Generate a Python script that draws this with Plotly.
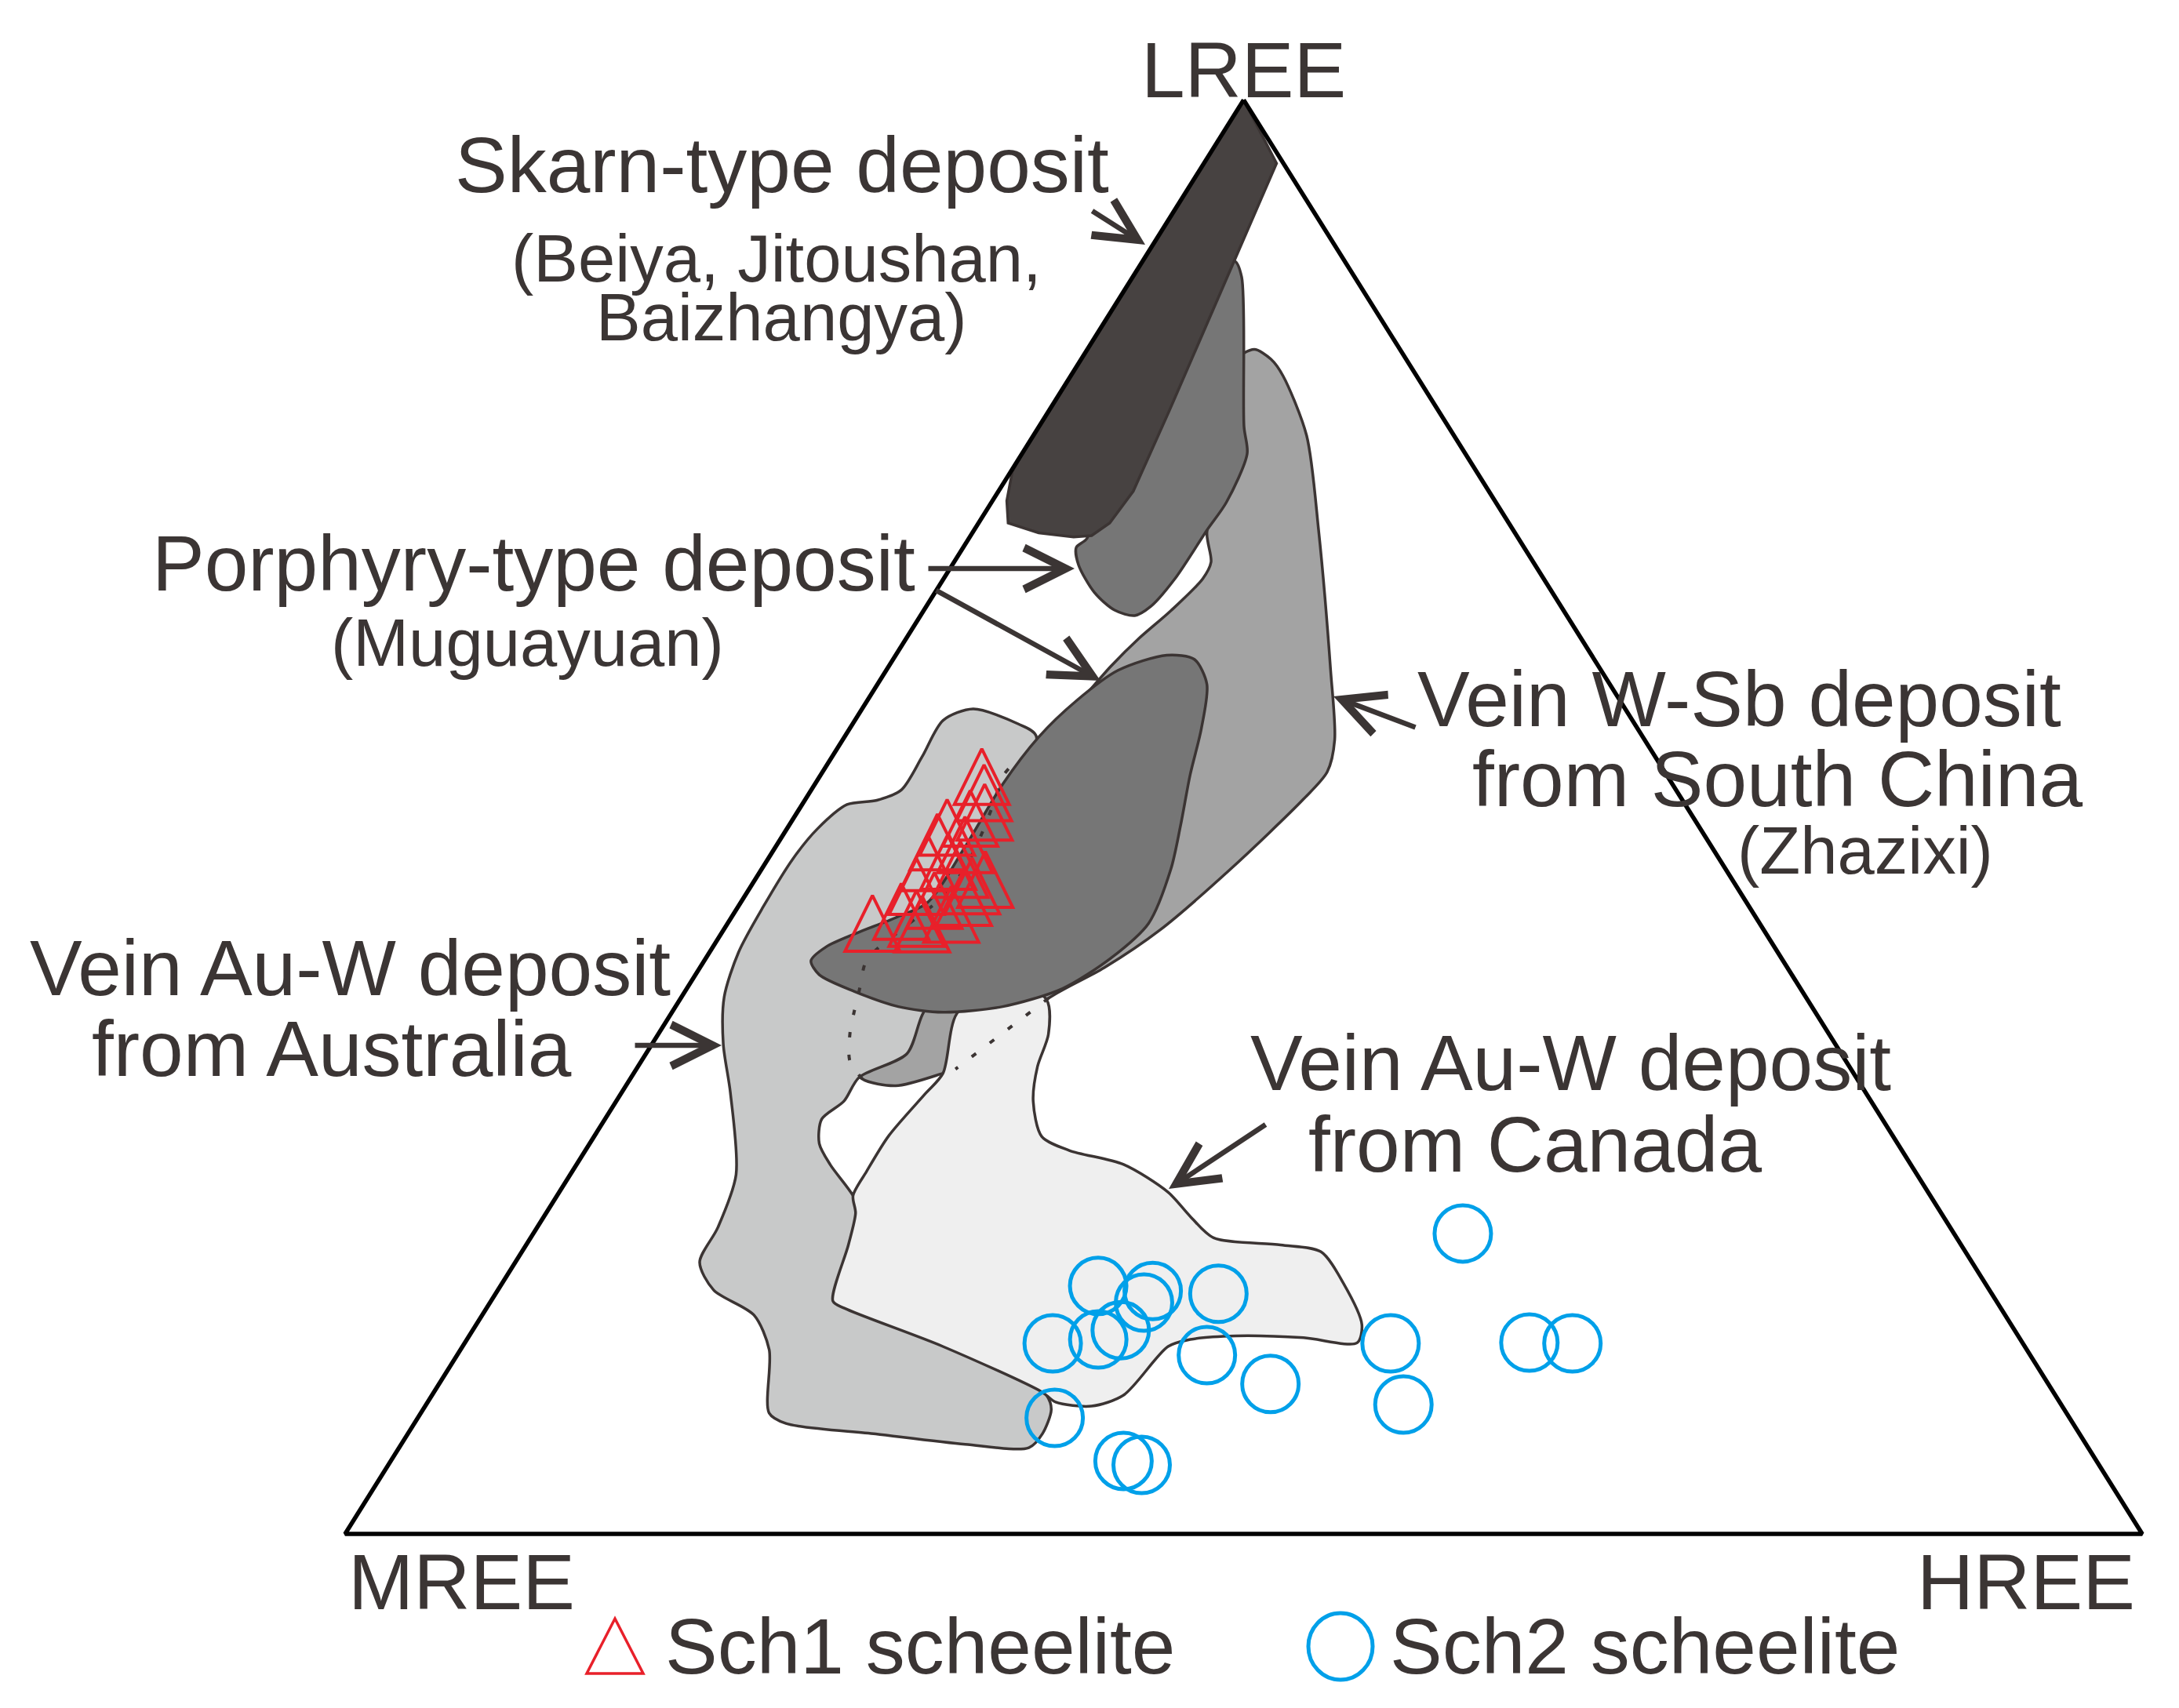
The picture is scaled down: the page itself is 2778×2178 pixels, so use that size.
import numpy as np
import plotly.graph_objects as go

# ---------------- data: ternary compositions in % (LREE, HREE); MREE = 100 - LREE - HREE ----
# Skarn-type deposit field (Beiya, Jitoushan, Baizhangya)
skarn_lree = [100.0, 95.58, 78.33, 72.72, 70.49, 69.62, 69.52, 69.81, 70.49, 72.04, 74.07, 75.53]
skarn_hree = [0.0, 4.04, 6.70, 7.50, 7.30, 6.73, 5.78, 3.69, 1.65, 0.80, 0.09, 0.0]

# Porphyry-type deposit, upper field (Muguayuan)
porph_up_lree = [88.75, 87.64, 77.22, 75.33, 71.94, 70.00, 66.61, 64.67, 64.04, 64.42, 65.64,
                 67.58, 68.79, 69.42, 73.59, 81.34, 87.64]
porph_up_hree = [5.13, 6.07, 11.41, 12.53, 13.07, 12.96, 12.87, 12.49, 11.92, 10.61, 8.88,
                 7.02, 6.29, 6.57, 5.45, 4.66, 4.22]

# Porphyry-type deposit, lower (elliptical) field
porph_lo_lree = [39.97, 40.94, 41.90, 42.97, 44.04, 47.91, 52.27, 55.57, 58.09, 60.22, 61.28,
                 60.99, 59.25, 56.15, 52.95, 49.37, 46.36, 42.58, 40.16, 38.03, 36.77, 36.38,
                 36.77, 37.84, 39.00]
porph_lo_hree = [5.94, 6.30, 7.52, 9.15, 10.40, 10.54, 10.45, 10.81, 11.64, 12.90, 15.08,
                 16.76, 18.33, 19.57, 20.55, 21.80, 22.77, 23.42, 22.54, 20.91, 18.20, 15.08,
                 12.40, 9.40, 6.88]

# Vein W-Sb deposit from South China (Zhazixi)
wsb_lree = [81.82, 82.60, 81.92, 80.76, 76.59, 70.00, 60.22, 55.37, 53.14, 51.21, 46.36, 42.10,
            39.48, 37.35, 32.41, 32.12, 31.25, 31.73, 32.99, 34.93, 36.38, 38.03, 39.77, 40.65,
            42.58, 44.52, 46.46, 48.40, 50.82, 52.95, 54.21, 56.92, 60.51, 62.45, 64.38, 66.61,
            67.77, 69.81, 74.56, 79.40]
wsb_hree = [8.60, 9.29, 10.56, 11.81, 15.21, 19.17, 24.73, 27.38, 28.08, 27.70, 26.09, 24.28,
            22.50, 20.46, 17.76, 17.21, 15.02, 12.91, 11.59, 10.63, 10.13, 9.62, 9.05, 9.16,
            10.12, 11.08, 11.27, 11.08, 10.64, 10.19, 10.50, 11.61, 12.36, 12.95, 13.76, 14.42,
            14.30, 13.05, 11.53, 9.65]

# Vein Au-W deposit from Australia
aus_lree = [57.53, 56.49, 55.66, 48.40, 39.68, 36.19, 33.48, 31.83, 30.18, 28.92, 27.23, 25.75,
            23.59, 21.27, 17.39, 13.52, 9.67, 8.67, 6.98, 6.01, 6.25, 6.97, 7.70, 8.43, 12.84,
            15.26, 17.00, 18.94, 21.36, 25.05, 30.76, 34.15, 37.45, 40.58, 43.75, 47.09, 49.17,
            50.86, 51.16, 51.88, 54.21, 56.73]
aus_hree = [6.18, 9.20, 10.62, 12.62, 13.89, 14.02, 14.52, 12.68, 12.67, 12.06, 12.77, 14.12,
            16.47, 18.46, 21.94, 28.52, 34.20, 34.96, 35.31, 35.04, 31.38, 26.04, 20.68, 19.38,
            17.18, 15.12, 12.01, 10.26, 10.06, 9.23, 6.06, 3.97, 2.37, 1.61, 1.40, 1.38, 1.70,
            2.50, 4.01, 5.01, 5.01, 4.91]

# Vein Au-W deposit from Canada
can_lree = [36.29, 32.12, 30.67, 27.76, 25.27, 23.59, 22.37, 20.15, 16.23, 15.74, 13.07, 9.89,
            9.19, 8.91, 9.68, 13.07, 13.56, 13.81, 13.68, 13.32, 14.58, 17.49, 19.67, 20.15,
            20.65, 22.14, 23.82, 25.76, 26.74, 27.72, 30.18, 32.60, 34.83, 37.25, 38.71]
can_hree = [15.90, 17.21, 16.93, 16.37, 16.38, 16.47, 17.22, 17.93, 19.03, 19.91, 26.73, 33.84,
            34.94, 37.08, 38.48, 39.26, 40.25, 42.68, 46.49, 49.65, 49.29, 46.80, 44.47, 41.98,
            38.00, 35.96, 33.89, 30.44, 26.93, 24.90, 23.20, 22.23, 21.72, 20.41, 17.46]

# Sch1 scheelite analyses
sch1_lree = [52.18, 51.05, 49.70, 49.27, 48.64, 47.62, 46.17, 46.26, 45.71, 45.01, 44.56, 43.75,
             42.78, 42.29, 41.95, 41.90, 44.52, 43.55, 42.58, 47.43]
sch1_hree = [9.34, 10.03, 10.74, 10.15, 9.18, 9.15, 9.33, 10.43, 11.38, 13.12, 12.61, 12.56,
             9.56, 10.65, 8.37, 11.16, 9.54, 11.02, 12.44, 10.78]

# Sch2 scheelite analyses
sch2_lree = [20.95, 17.29, 16.94, 16.13, 16.75, 13.29, 13.56, 14.20, 12.47, 10.46, 13.29, 9.02,
             13.34, 13.29, 8.09, 5.09, 4.81]
sch2_hree = [51.72, 33.26, 36.47, 36.39, 40.22, 32.73, 35.13, 36.06, 41.72, 46.26, 51.53, 54.38,
             59.23, 61.65, 35.44, 40.77, 41.92]

# apexes of the diagram (LREE, HREE)
apex_lree = [100, 0, 0, 100]
apex_hree = [0, 0, 100, 0]

# ---------------- styling / geometry ----------------
W, H = 2778, 2178
X_RANGE = [-0.18853, 1.02396]
Y_RANGE = [-0.12579, 1.06530]
PX_X = W / (X_RANGE[1] - X_RANGE[0])
PX_Y = H / (Y_RANGE[1] - Y_RANGE[0])

TXT = '#3b3534'
EDGE = '#3b3433'
FONT = 'Liberation Sans, Arial, sans-serif'


def tern_xy(lree, hree):
    l = np.asarray(lree, float) / 100.0
    h = np.asarray(hree, float) / 100.0
    return h + l / 2.0, l


def P(px, py):
    return px / W, 1 - py / H


fig = go.Figure()


def field(lree, hree, color, shape='spline'):
    x, y = tern_xy(lree, hree)
    x = np.append(x, x[0])
    y = np.append(y, y[0])
    fig.add_trace(go.Scatter(x=x, y=y, mode='lines', fill='toself', fillcolor=color,
                             line=dict(color=EDGE, width=3.5, shape=shape, smoothing=0.8),
                             hoverinfo='skip', showlegend=False))


field(wsb_lree, wsb_hree, '#a3a3a3')
field(aus_lree, aus_hree, '#c8c9c9')
field(can_lree, can_hree, '#efefef')
field(porph_up_lree, porph_up_hree, '#767676')
field(porph_lo_lree, porph_lo_hree, '#767676')
field(skarn_lree, skarn_hree, '#474241', shape='linear')

# hidden outline of the W-Sb field (dotted)
for a, b in [(17, 31), (13, 15)]:
    x, y = tern_xy(wsb_lree[a:b], wsb_hree[a:b])
    fig.add_trace(go.Scatter(x=x, y=y, mode='lines',
                             line=dict(color=EDGE, width=4, dash='7px,22px', shape='spline',
                                       smoothing=0.8),
                             hoverinfo='skip', showlegend=False))

# diagram frame
fx, fy = tern_xy(apex_lree, apex_hree)
fig.add_trace(go.Scatter(x=fx, y=fy, mode='lines', line=dict(color='black', width=5.5),
                         hoverinfo='skip', showlegend=False))

# Sch1: open triangles drawn around each analysis
tx, ty = tern_xy(sch1_lree, sch1_hree)
dx, du, dd = 35 / PX_X, 47 / PX_Y, 24 / PX_Y
txs, tys = [], []
for a, b in zip(tx, ty):
    txs += [a, a + dx, a, a - dx, a, None]
    tys += [b - dd, b - dd, b + du, b - dd, b - dd, None]
fig.add_trace(go.Scatter(x=txs, y=tys, mode='lines', line=dict(color='#e8202a', width=4),
                         name='Sch1 scheelite', hoverinfo='skip', showlegend=False))

# Sch2: open circles
cx, cy = tern_xy(sch2_lree, sch2_hree)
fig.add_trace(go.Scatter(x=cx, y=cy, mode='markers', name='Sch2 scheelite',
                         marker=dict(symbol='circle-open', size=72, color='#00a0e9',
                                     line=dict(width=5)),
                         showlegend=False))

# ---------------- text ----------------
labels = [
    ('LREE', 1577, 81, 100),
    ('MREE', 580, 2009, 100),
    ('HREE', 2575, 2009, 100),
    ('Skarn-type deposit', 989, 202, 100),
    ('(Beiya, Jitoushan,', 982, 321, 85),
    ('Baizhangya)', 988, 396, 85),
    ('Porphyry-type deposit', 672, 710, 100),
    ('(Muguayuan)', 664, 812, 85),
    ('Vein W-Sb deposit', 2209, 883, 100),
    ('from South China', 2258, 985, 100),
    ('(Zhazixi)', 2370, 1076, 85),
    ('Vein Au-W deposit', 438, 1226, 100),
    ('from Australia', 415, 1329, 100),
    ('Vein Au-W deposit', 1995, 1347, 100),
    ('from Canada', 1949, 1451, 100),
    ('Sch1 scheelite', 1165, 2091, 100),
    ('Sch2 scheelite', 2089, 2091, 100),
]
annotations = []
for t, px, py, fs in labels:
    x, y = P(px, py)
    annotations.append(dict(text=t, x=x, y=y, xref='paper', yref='paper', xanchor='center',
                            yanchor='middle', showarrow=False,
                            font=dict(family=FONT, size=fs, color=TXT)))

# leader arrows: (tail px, head px)
arrows = [
    ((1383, 260), (1452, 304)),
    ((1174, 717), (1362, 717)),
    ((1184, 744), (1395, 860)),
    ((1798, 920), (1692, 880)),
    ((800, 1325), (912, 1325)),
    ((1607, 1425), (1482, 1508)),
]
for (tx0, ty0), (hx, hy) in arrows:
    x, y = P(hx, hy)
    annotations.append(dict(text='', x=x, y=y, xref='paper', yref='paper',
                            ax=tx0 - hx, ay=ty0 - hy, axref='pixel', ayref='pixel',
                            showarrow=True, arrowhead=5, arrowsize=1.6, arrowwidth=6.5,
                            arrowcolor=TXT, standoff=0))

# legend keys
a1, b1 = P(776, 2056)
a2, b2 = P(812, 2126)
a3, b3 = P(740, 2126)
shapes = [
    dict(type='path', xref='paper', yref='paper',
         path=f'M{a1},{b1} L{a2},{b2} L{a3},{b3} Z',
         line=dict(color='#e8202a', width=3.5)),
    dict(type='circle', xref='paper', yref='paper',
         x0=1660 / W, x1=1742 / W, y0=1 - 2134 / H, y1=1 - 2049 / H,
         line=dict(color='#00a0e9', width=5)),
]

fig.update_layout(
    width=W, height=H, margin=dict(l=0, r=0, t=0, b=0, pad=0),
    paper_bgcolor='white', plot_bgcolor='white', showlegend=False,
    xaxis=dict(range=X_RANGE, visible=False, showgrid=False, zeroline=False, fixedrange=True),
    yaxis=dict(range=Y_RANGE, visible=False, showgrid=False, zeroline=False, fixedrange=True),
    annotations=annotations, shapes=shapes, hovermode=False,
)

fig.write_html('out.html')
